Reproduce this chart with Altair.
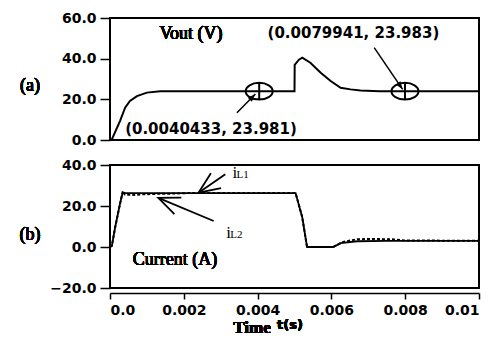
import math
import altair as alt
import pandas as pd

# ---------------- data ----------------
vout_t = [0, 0.00005, 0.00027, 0.00041, 0.00054, 0.00073, 0.0010, 0.00136, 0.0020,
          0.0050, 0.005005, 0.00512, 0.00521, 0.00543, 0.00571, 0.00598, 0.00625,
          0.00652, 0.00679, 0.0073, 0.0100]
vout_v = [0, 0.3, 9.3, 15.9, 19.2, 21.6, 23.3, 23.98, 23.98,
          23.98, 37.0, 39.5, 40.5, 38.0, 33.1, 29.0, 25.7,
          24.9, 24.4, 23.98, 23.98]

il1_t = [0, 0.00005, 0.00014, 0.00027, 0.00034, 0.0005, 0.0050, 0.00503, 0.00521,
         0.00534, 0.00605, 0.00625, 0.0067, 0.0075, 0.0100]
il1_v = [0, 0.5, 9.7, 21.0, 26.3, 26.3, 26.3, 26.3, 14.5,
         0.0, 0.0, 1.9, 2.8, 3.0, 3.0]

il2_t = [0, 0.00005, 0.00014, 0.00027, 0.00035, 0.0004, 0.0006, 0.0009, 0.0012,
         0.0016, 0.0021, 0.0050, 0.00503, 0.00521, 0.00534, 0.00605, 0.0063,
         0.0067, 0.0072, 0.0077, 0.0080, 0.0100]
il2_v = [0, 0.5, 9.5, 21.0, 27.4, 25.6, 25.4, 25.7, 25.9,
         26.0, 26.3, 26.3, 26.3, 14.5, 0.0, 0.0, 2.4,
         3.8, 3.9, 3.7, 3.2, 3.0]

# measurement markers and their labels (top panel)
mk_t = [0.0040433, 0.0079941]
mk_v = [23.981, 23.983]
ann_text = ["(0.0040433, 23.981)", "(0.0079941, 23.983)"]
ann_t = [0.00041, 0.00427]
ann_v = [5.4, 52.6]
arr_t1 = [0.00344, 0.00716]
arr_v1 = [13.4, 45.4]
arr_t2 = [0.00394, 0.00793]
arr_v2 = [22.6, 24.9]

# bottom panel annotation arrows and labels
barr_t1 = [0.003125, 0.00281]
barr_v1 = [35.5, 12.7]
barr_t2 = [0.0024, 0.00131]
barr_v2 = [26.5, 24.0]
lab_t = [0.00332, 0.00315]
lab_v = [33.5, 4.4]
lab_sub = ["L1", "L2"]

x_ticks = [0, 0.002, 0.004, 0.006, 0.008, 0.01]
top_ticks = [0, 20, 40, 60]
bot_ticks = [-20, 0, 20, 40]

# ---------------- layout ----------------
W = 369
H1 = 122
H2 = 123
SANS = "DejaVu Sans"
SERIF = "Liberation Serif"

xscale = alt.Scale(domain=[0, 0.01], nice=False, zero=False)
ytop_scale = alt.Scale(domain=[0, 60], nice=False)
ybot_scale = alt.Scale(domain=[-20, 40], nice=False)


def yaxis(vals):
    return alt.Axis(values=vals, format=".1f", title=None, domain=False, grid=False,
                    tickSize=10, tickWidth=1.5, tickColor="black",
                    labelFont=SANS, labelFontWeight="bold", labelFontSize=14,
                    labelColor="black", labelPadding=4)


xaxis = alt.Axis(values=x_ticks, title=None, grid=False, offset=5,
                 labelExpr="datum.value == 0 ? '0.0' : (datum.value >= 0.0099 ? '0.01' : format(datum.value, '.3f'))",
                 domainColor="black", domainWidth=1.5, tickColor="black", tickWidth=1.5,
                 tickSize=6, labelFont=SANS, labelFontWeight="bold", labelFontSize=14,
                 labelColor="black", labelPadding=4)


def XT(field="t"):
    return alt.X(f"{field}:Q", scale=xscale, axis=None)


def XB(field="t"):
    return alt.X(f"{field}:Q", scale=xscale, axis=xaxis)


def YT(field="v"):
    return alt.Y(f"{field}:Q", scale=ytop_scale, axis=yaxis(top_ticks))


def YB(field="v"):
    return alt.Y(f"{field}:Q", scale=ybot_scale, axis=yaxis(bot_ticks))


def angles(t1, v1, t2, v2, ppv):
    ppt = W / 0.01
    out = []
    for a, b, c, d in zip(t1, v1, t2, v2):
        dx = (c - a) * ppt
        dy = -(d - b) * ppv
        out.append(math.degrees(math.atan2(dx, -dy)) % 360)
    return out


ELLIPSE = "M-1,0A1,0.62 0 1,0 1,0A1,0.62 0 1,0 -1,0ZM0,-0.62L0,0.62"
TRI = "M0,0L-0.5,1.4L0.5,1.4Z"
CHEV = "M-0.39,0.92L0,0L0.39,0.92"

# ---------- top panel ----------
df_vout = pd.DataFrame({"t": vout_t, "v": vout_v})
df_mk = pd.DataFrame({"t": mk_t, "v": mk_v})
df_ann = pd.DataFrame({"t": ann_t, "v": ann_v, "txt": ann_text})
df_arr = pd.DataFrame({"t": arr_t1, "v": arr_v1, "t2": arr_t2, "v2": arr_v2,
                       "ang": angles(arr_t1, arr_v1, arr_t2, arr_v2, H1 / 60)})

vline = alt.Chart(df_vout).mark_line(color="black", strokeWidth=2).encode(x=XT(), y=YT())
marks = alt.Chart(df_mk).mark_point(shape=ELLIPSE, size=729, filled=False, color="black",
                                    strokeWidth=2, opacity=1).encode(x=XT(), y=YT())
anns = alt.Chart(df_ann).mark_text(font=SANS, fontWeight="bold", fontSize=15, align="left",
                                   baseline="middle", color="black").encode(
    x=XT(), y=YT(), text="txt:N")
arrows = alt.Chart(df_arr).mark_rule(color="black", strokeWidth=1.5).encode(
    x=XT(), y=YT(), x2="t2:Q", y2="v2:Q")
heads = alt.Chart(df_arr).mark_point(shape=TRI, size=130, filled=True, color="black",
                                     opacity=1).encode(
    x=XT("t2"), y=YT("v2"), angle=alt.Angle("ang:Q", scale=None))
vtitle = alt.Chart(df_vout).mark_text(text="Vout (V)", font=SERIF, fontSize=18,
                                      color="black", baseline="middle").encode(
    x=alt.value(81), y=alt.value(16))
alab = alt.Chart(df_vout).mark_text(text="(a)", font=SERIF, fontSize=18, color="black",
                                    baseline="middle").encode(
    x=alt.value(-80), y=alt.value(68))

top = alt.layer(vline, marks, anns, arrows, heads, vtitle, alab).properties(width=W, height=H1)

# ---------- bottom panel ----------
df_il1 = pd.DataFrame({"t": il1_t, "v": il1_v})
df_il2 = pd.DataFrame({"t": il2_t, "v": il2_v})
df_barr = pd.DataFrame({"t": barr_t1, "v": barr_v1, "t2": barr_t2, "v2": barr_v2,
                        "ang": angles(barr_t1, barr_v1, barr_t2, barr_v2, H2 / 60)})
df_lab = pd.DataFrame({"t": lab_t, "v": lab_v, "sub": lab_sub,
                       "ts": [a + 0.00011 for a in lab_t]})

l2 = alt.Chart(df_il2).mark_line(color="black", strokeWidth=2, strokeDash=[3, 2]).encode(
    x=XB(), y=YB())
l1 = alt.Chart(df_il1).mark_line(color="black", strokeWidth=1.8).encode(x=XB(), y=YB())
barrows = alt.Chart(df_barr).mark_rule(color="black", strokeWidth=1.8).encode(
    x=XB(), y=YB(), x2="t2:Q", y2="v2:Q")
bheads = alt.Chart(df_barr).mark_point(shape=CHEV, size=2116, filled=False, color="black",
                                       strokeWidth=1.8, opacity=1).encode(
    x=XB("t2"), y=YB("v2"), angle=alt.Angle("ang:Q", scale=None))
li = alt.Chart(df_lab).mark_text(text="i", font=SERIF, fontSize=17, color="black",
                                 align="left", baseline="alphabetic").encode(
    x=XB(), y=YB())
lsub = alt.Chart(df_lab).mark_text(font=SERIF, fontSize=11, color="black", align="left",
                                   baseline="alphabetic").encode(
    x=XB("ts"), y=YB(), text="sub:N")
ctitle = alt.Chart(df_il1).mark_text(text="Current (A)", font=SERIF, fontSize=18,
                                     color="black", baseline="middle").encode(
    x=alt.value(65), y=alt.value(95))
blab = alt.Chart(df_il1).mark_text(text="(b)", font=SERIF, fontSize=18, color="black",
                                   baseline="middle").encode(
    x=alt.value(-80), y=alt.value(70))
time_lab = alt.Chart(df_il1).mark_text(text="Time", font=SERIF, fontSize=17,
                                       fontWeight="bold", color="black",
                                       baseline="middle").encode(
    x=alt.value(142), y=alt.value(163))
ts_lab = alt.Chart(df_il1).mark_text(text="t(s)", font=SANS, fontSize=13,
                                     fontWeight="bold", color="black",
                                     baseline="middle").encode(
    x=alt.value(180), y=alt.value(160))

bottom = alt.layer(l2, l1, barrows, bheads, li, lsub, ctitle, blab, time_lab, ts_lab).properties(
    width=W, height=H2)

chart = alt.vconcat(top, bottom, spacing=9).properties(
    padding={"left": 10, "top": 2, "right": 0, "bottom": 0},
    background="white",
).configure_view(stroke="black", strokeWidth=2)

chart.save("out.html", embed_options={"renderer": "svg", "actions": False})
